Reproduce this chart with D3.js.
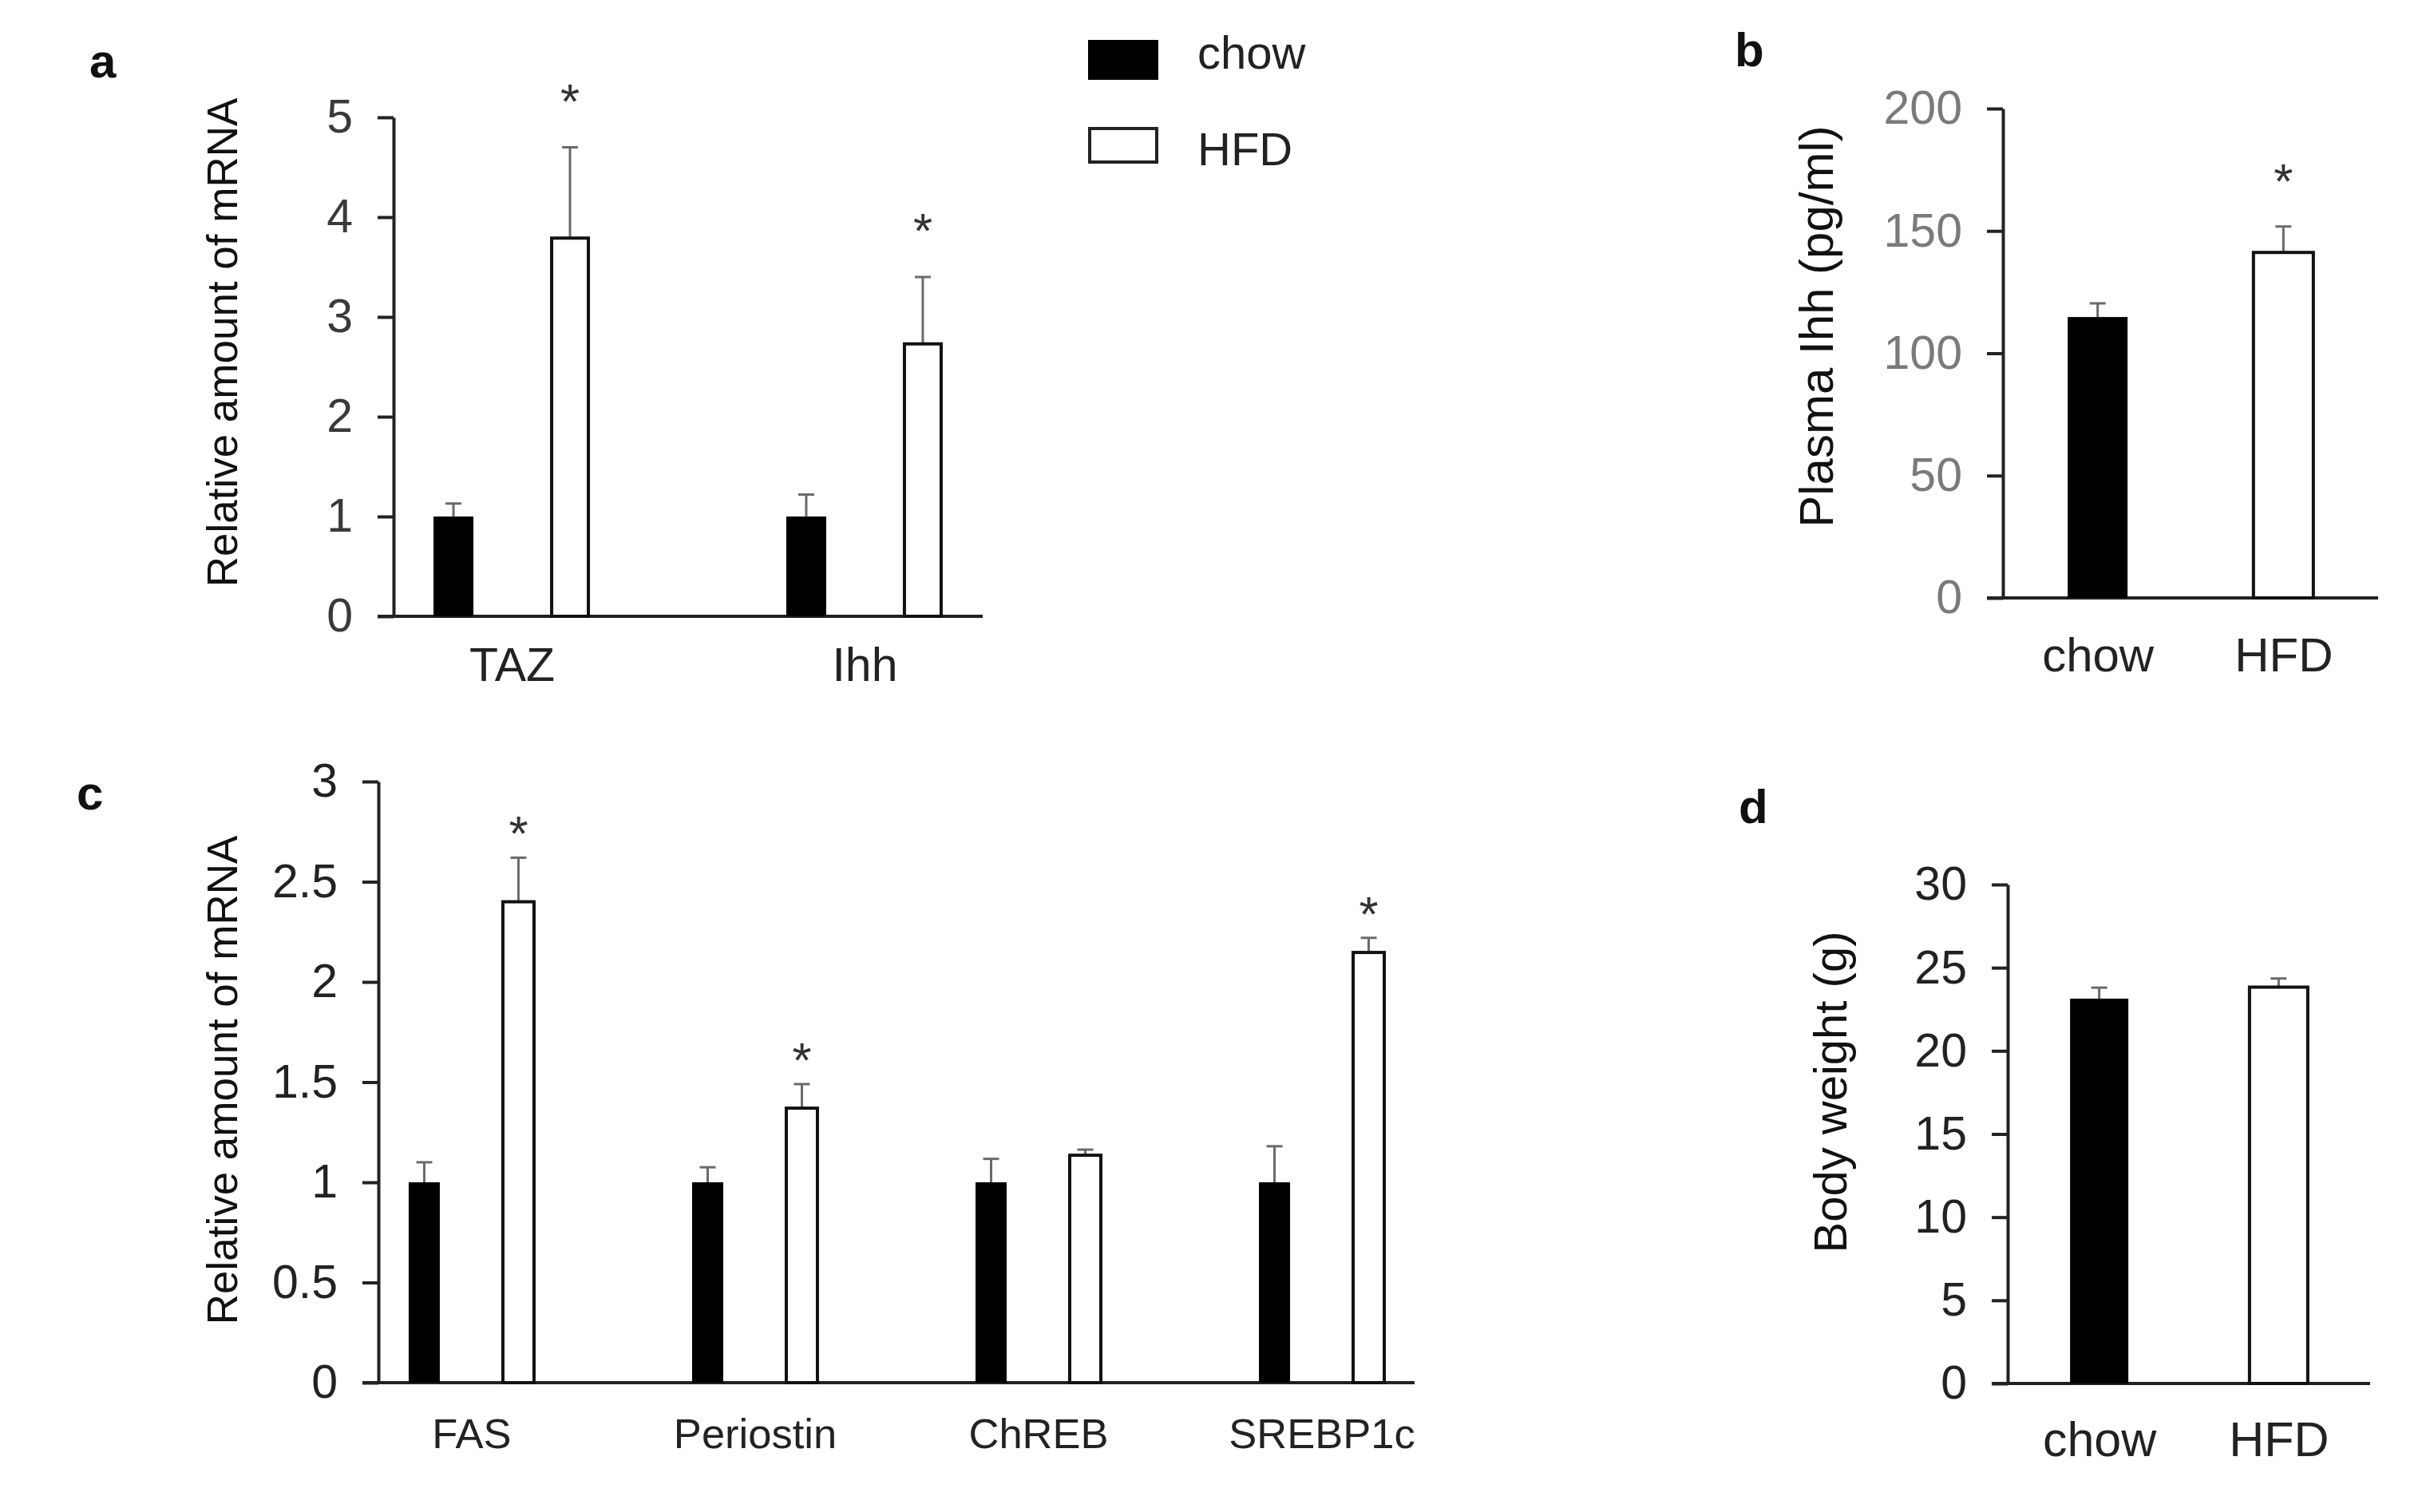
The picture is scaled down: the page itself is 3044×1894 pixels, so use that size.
<!DOCTYPE html>
<html>
<head>
<meta charset="utf-8">
<script src="https://cdn.jsdelivr.net/npm/d3@7"></script>
<style>
  body { margin: 0; background: #fff; }
  text { font-family: "Liberation Sans", Arial, sans-serif; }
</style>
</head>
<body>
<div id="chart"></div>
<script>
// groups / series
const series = ["chow", "HFD"];
const seriesFill = { chow: "#000", HFD: "#fff" };

// panel a: liver mRNA (TAZ, Ihh)
const genesA = ["TAZ", "Ihh"];
const meanA = { chow: [1.0, 1.0], HFD: [3.79, 2.73] };
const errA = { chow: [0.13, 0.22], HFD: [0.91, 0.67] };
const sigA = { chow: [false, false], HFD: [true, true] };
const ticksA = [0, 1, 2, 3, 4, 5];

// panel b: plasma Ihh
const groupsB = ["chow", "HFD"];
const meanB = [114.8, 141.2];
const errB = [5.6, 10.6];
const sigB = [false, true];
const ticksB = [0, 50, 100, 150, 200];

// panel c: lipogenic genes
const genesC = ["FAS", "Periostin", "ChREB", "SREBP1c"];
const meanC = { chow: [1.0, 1.0, 1.0, 1.0], HFD: [2.40, 1.37, 1.135, 2.147] };
const errC = { chow: [0.10, 0.075, 0.117, 0.18], HFD: [0.22, 0.12, 0.028, 0.073] };
const sigC = { chow: [false, false, false, false], HFD: [true, true, false, true] };
const ticksC = [0, 0.5, 1, 1.5, 2, 2.5, 3];

// panel d: body weight
const groupsD = ["chow", "HFD"];
const meanD = [23.14, 23.83];
const errD = [0.66, 0.52];
const sigD = [false, false];
const ticksD = [0, 5, 10, 15, 20, 25, 30];

const W = 3044, H = 1894;
const svg = d3.select("#chart").append("svg")
  .attr("width", W)
  .attr("height", H)
  .style("background", "#fff");

// flatten grouped data into one row per bar
function groupedRows(genes, mean, err, sig) {
  return genes.flatMap((g, i) => series.map(s => ({
    cat: g, s: s, mean: mean[s][i], err: err[s][i], sig: sig[s][i]
  })));
}
function singleRows(groups, mean, err, sig) {
  return groups.map((g, i) => ({ cat: g, s: g, mean: mean[i], err: err[i], sig: sig[i] }));
}

function drawPanel(o) {
  const g = svg.append("g");
  const y = d3.scaleLinear().domain([0, o.max]).range([o.y0, o.yTop]);
  const x0 = d3.scalePoint().domain(o.cats).range([o.axisX, o.right]).padding(o.padding);
  const x1 = d3.scalePoint().domain(series).range([-o.offset, o.offset]);
  const cx = d => x0(d.cat) + (o.offset ? x1(d.s) : 0);

  // y axis
  const ya = g.append("g")
    .attr("transform", `translate(${o.axisX},0)`)
    .call(d3.axisLeft(y).tickValues(o.ticks).tickSize(20).tickPadding(31)
      .tickSizeOuter(0).tickFormat(d3.format("~g")))
    .attr("font-family", null).attr("font-size", null);
  ya.select(".domain").attr("stroke", "#222").attr("stroke-width", 4);
  ya.selectAll(".tick line").attr("stroke", "#222").attr("stroke-width", 4);
  ya.selectAll(".tick text").attr("font-size", 59).attr("fill", o.tickColor);

  // x axis line (runs out under the tick stubs like the original)
  g.append("line")
    .attr("x1", o.axisX - 20).attr("x2", o.right)
    .attr("y1", o.y0).attr("y2", o.y0)
    .attr("stroke", "#222").attr("stroke-width", 4);

  const xa = g.append("g")
    .attr("transform", `translate(0,${o.y0})`)
    .call(d3.axisBottom(x0).tickSize(0).tickPadding(o.xPad))
    .attr("font-family", null).attr("font-size", null);
  xa.select(".domain").remove();
  xa.selectAll(".tick text").attr("font-size", o.xSize).attr("fill", "#222");

  // error bars (upper only)
  const eb = g.selectAll(".err").data(o.rows).enter().append("g").attr("class", "err");
  eb.append("line")
    .attr("x1", cx).attr("x2", cx)
    .attr("y1", d => y(d.mean)).attr("y2", d => y(d.mean + d.err))
    .attr("stroke", "#6a6a6a").attr("stroke-width", 3);
  eb.append("line")
    .attr("x1", d => cx(d) - 10).attr("x2", d => cx(d) + 10)
    .attr("y1", d => y(d.mean + d.err)).attr("y2", d => y(d.mean + d.err))
    .attr("stroke", "#6a6a6a").attr("stroke-width", 3);

  // bars
  g.selectAll(".bar").data(o.rows).enter().append("rect")
    .attr("class", "bar")
    .attr("x", d => cx(d) - (d.s === "HFD" ? o.bw : o.bwChow || o.bw) / 2)
    .attr("y", d => y(d.mean))
    .attr("width", d => d.s === "HFD" ? o.bw : o.bwChow || o.bw)
    .attr("height", d => o.y0 - y(d.mean))
    .attr("fill", d => seriesFill[d.s])
    .attr("stroke", "#111")
    .attr("stroke-width", d => d.s === "HFD" ? 4 : 0);

  // significance stars
  g.selectAll(".star").data(o.rows.filter(d => d.sig)).enter().append("text")
    .attr("x", cx)
    .attr("y", d => y(d.mean + d.err) - o.starGap)
    .attr("text-anchor", "middle")
    .attr("font-size", 62)
    .attr("fill", "#333")
    .text("*");

  // y title
  g.append("text")
    .attr("transform", `translate(${o.labelX},${o.labelY}) rotate(-90)`)
    .attr("text-anchor", "middle")
    .attr("font-size", o.labelSize)
    .attr("font-weight", o.labelWeight || "normal")
    .attr("fill", "#111")
    .text(o.label);

  // panel letter
  g.append("text")
    .attr("x", o.letterX).attr("y", o.letterY)
    .attr("font-size", 60).attr("font-weight", "bold").attr("fill", "#111")
    .text(o.letter);
}

drawPanel({
  letter: "a", letterX: 112, letterY: 97,
  cats: genesA, rows: groupedRows(genesA, meanA, errA, sigA),
  max: 5, ticks: ticksA, tickColor: "#3a3a3a",
  axisX: 493, right: 1231, y0: 772, yTop: 147, padding: 0.335,
  offset: 73, bw: 46, bwChow: 50, xPad: 39, xSize: 59, starGap: 37,
  label: "Relative amount of mRNA", labelX: 297, labelY: 429, labelSize: 53
});

drawPanel({
  letter: "b", letterX: 2173, letterY: 83,
  cats: groupsB, rows: singleRows(groupsB, meanB, errB, sigB),
  max: 200, ticks: ticksB, tickColor: "#7a7a7a",
  axisX: 2509, right: 2979, y0: 749, yTop: 136, padding: 0.51,
  offset: 0, bw: 75, xPad: 49, xSize: 60, starGap: 36,
  label: "Plasma Ihh (pg/ml)", labelX: 2296, labelY: 409, labelSize: 60, labelWeight: "normal"
});

drawPanel({
  letter: "c", letterX: 96, letterY: 1014,
  cats: genesC, rows: groupedRows(genesC, meanC, errC, sigC),
  max: 3, ticks: ticksC, tickColor: "#222",
  axisX: 474, right: 1772, y0: 1732, yTop: 979, padding: 0.328,
  offset: 59, bw: 39, xPad: 45, xSize: 52.5, starGap: 9,
  label: "Relative amount of mRNA", labelX: 297, labelY: 1353, labelSize: 53
});

drawPanel({
  letter: "d", letterX: 2178, letterY: 1031,
  cats: groupsD, rows: singleRows(groupsD, meanD, errD, sigD),
  max: 30, ticks: ticksD, tickColor: "#222",
  axisX: 2515, right: 2969, y0: 1733, yTop: 1108, padding: 0.51,
  offset: 0, bw: 73, xPad: 48, xSize: 61, starGap: 27,
  label: "Body weight (g)", labelX: 2313, labelY: 1368, labelSize: 58
});

// legend
const legend = svg.append("g").attr("transform", "translate(1363,50)");
series.forEach((s, i) => {
  const row = legend.append("g").attr("transform", `translate(0,${i * 111})`);
  if (s === "chow") {
    row.append("rect").attr("x", 0).attr("y", 0).attr("width", 88).attr("height", 50)
      .attr("fill", "#000");
  } else {
    row.append("rect").attr("x", 2).attr("y", 0).attr("width", 84).attr("height", 42)
      .attr("fill", "#fff").attr("stroke", "#222").attr("stroke-width", 4);
  }
  row.append("text")
    .attr("x", 137)
    .attr("y", i === 0 ? 36 : 46)
    .attr("font-size", 58)
    .attr("fill", "#222")
    .text(s);
});
</script>
</body>
</html>
